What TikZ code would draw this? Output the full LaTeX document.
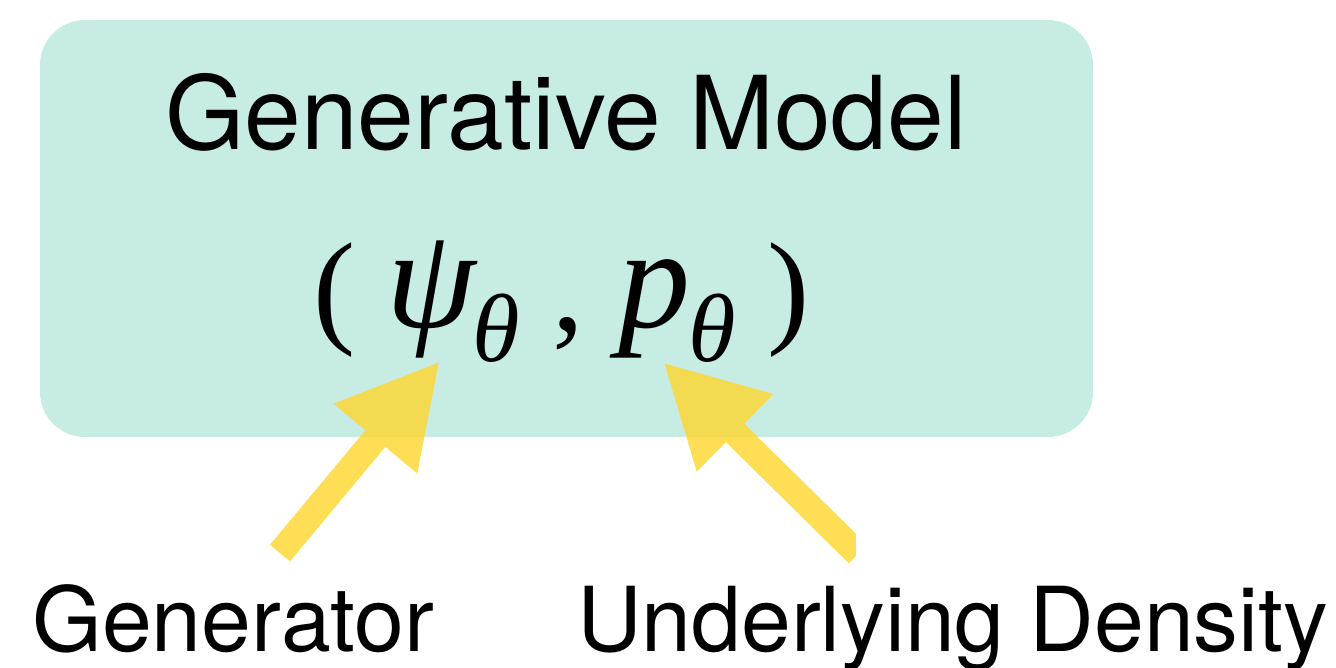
\documentclass[tikz,border=0pt]{standalone}
\usepackage{fontspec}
\setmainfont{TeX Gyre Heros}
\newfontfamily\greekserif{Liberation Serif}
\usetikzlibrary{arrows.meta}

\definecolor{modelbg}{RGB}{198,236,228}
\definecolor{pointer}{RGB}{253,216,55}

\begin{document}
\begin{tikzpicture}[x=0.02cm, y=-0.02cm,
	bigsans/.style={inner sep=0, font=\fontsize{58}{68}\selectfont},
	labelsans/.style={inner sep=0, anchor=base west, font=\fontsize{51}{60}\selectfont},
	mathbig/.style={inner sep=0, anchor=base west, font=\greekserif\fontsize{72}{80}\selectfont},
	mathvar/.style={inner sep=0, anchor=base west, font=\greekserif\itshape\fontsize{82}{90}\selectfont},
	mathsub/.style={inner sep=0, anchor=base west, font=\greekserif\itshape\fontsize{55}{60}\selectfont},
	pointerarrow/.style={pointer, line width=0.52cm,
		-{Triangle[length=2.02cm 0 0, width=2.02cm 0 0]}}]
	\useasboundingbox (0,0) rectangle (1336,667);
	% model box
	\fill[modelbg, rounded corners=0.9cm] (40,20) rectangle (1093,437);
	\node[bigsans, anchor=base] (title) at (566,149) {Generative Model};
	% the pair
	\node[mathbig] (lpar) at (313,330) {(};
	\node[mathvar] (psi) at (386,327) {ψ};
	\node[mathsub] (thetaA) at (472,361) {θ};
	\node[mathbig] (comma) at (552,330) {,};
	\node[mathvar] (pvar) at (618,327) {p};
	\node[mathsub] (thetaB) at (688,361) {θ};
	\node[mathbig] (rpar) at (767,330) {)};
	% arrows
	\coordinate (genTail) at (280,553);
	\coordinate (genTip) at (440,361);
	\coordinate (denTail) at (858,554);
	\coordinate (denTip) at (663,362);
	\begin{scope}[transparency group, opacity=0.85]
		\draw[pointerarrow] (genTail) -- (genTip);
	\end{scope}
	\begin{scope}
		\clip (0,0) rectangle (855,667);
		\begin{scope}[transparency group, opacity=0.85]
			\draw[pointerarrow] (denTail) -- (denTip);
		\end{scope}
	\end{scope}
	% labels
	\node[labelsans] (gen) at (32,651) {Generator};
	\node[labelsans] (dens) at (577,651) {Underlying Density};
\end{tikzpicture}
\end{document}
